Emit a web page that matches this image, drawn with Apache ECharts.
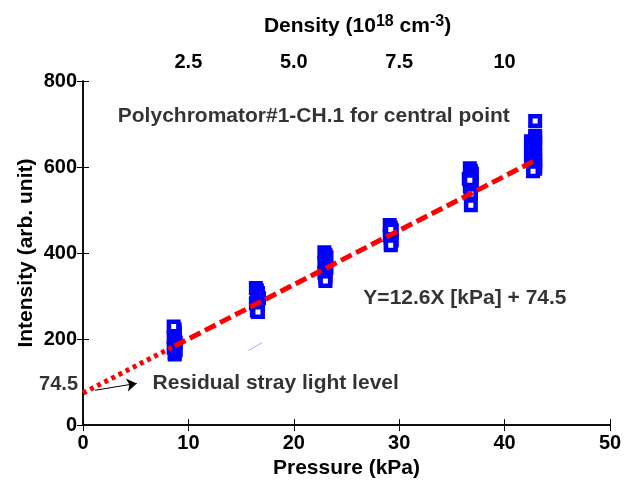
<!DOCTYPE html>
<html>
<head>
<meta charset="utf-8">
<script src="https://cdn.jsdelivr.net/npm/echarts@6/dist/echarts.min.js"></script>
<style>
  html, body { margin: 0; padding: 0; background: #fff; }
  #chart { width: 634px; height: 484px; }
</style>
</head>
<body>
<div id="chart"></div>
<script>
// pressure (kPa) of each measured shot, and its intensity
var pressure = [
  8.7, 8.7, 8.8, 8.6, 8.7, 8.8, 8.7, 8.6, 8.7, 8.7, 8.7, 8.6,
  16.4, 16.5, 16.6, 16.5, 16.7, 16.5, 16.4, 16.6, 16.5, 16.5, 16.6,
  22.9, 23.0, 23.1, 23.0, 22.9, 23.0, 23.1, 23.0, 22.9, 23.0, 23.0, 23.0,
  29.1, 29.2, 29.3, 29.2, 29.1, 29.2, 29.3, 29.2, 29.2, 29.2,
  36.7, 36.8, 36.9, 36.8, 36.6, 36.8, 36.9, 36.7, 36.8, 36.8, 36.8, 36.8, 36.7,
  42.9, 42.9, 42.5, 42.9, 42.5, 42.9, 42.5, 42.9, 42.5, 42.9, 42.9, 42.9, 42.9, 42.7, 42.9
];
var intensity = [
  164, 168, 174, 180, 186, 192, 198, 204, 210, 216, 222, 229,
  319, 313, 307, 301, 295, 289, 283, 277, 271, 266, 263,
  402, 396, 390, 384, 378, 372, 366, 360, 354, 348, 342, 335,
  465, 459, 453, 447, 441, 435, 429, 423, 418, 455,
  597, 591, 585, 579, 573, 567, 561, 555, 549, 543, 537, 511, 569,
  673, 667, 660, 654, 647, 641, 634, 628, 621, 615, 608, 602, 596, 590, 707
];

// linear fit Y = 12.6X + 74.5 : extrapolated part (dotted) and fitted part (dashed)
var fitDotX = [0, 8.7];
var fitDotY = [74.5, 184];
var fitDashX = [8.7, 42.8];
var fitDashY = [184, 614];

// small stray stroke seen near the 16.5 kPa group
var strayX = [15.7, 17.0];
var strayY = [173, 192];

// arrow pointing at the stray light level
var arrowX = [1.15, 5.1];
var arrowY = [81, 97];

// annotations
var noteText = ['Polychromator#1-CH.1 for central point', 'Y=12.6X [kPa] + 74.5', 'Residual stray light level'];
var noteX = [3.3, 26.6, 6.6];
var noteY = [717, 296, 97];

// axis ticks
var pressureTicks = [0, 10, 20, 30, 40, 50];
var intensityTicks = [0, 200, 400, 600, 800];
var densityTicks = [2.5, 5.0, 7.5, 10];
var densityLabels = ['2.5', '5.0', '7.5', '10'];

var FONT = '"Liberation Sans", Arial, sans-serif';
var lbl = { color: '#000', fontFamily: FONT, fontWeight: 'bold', fontSize: 20 };
var big = { color: '#000', fontFamily: FONT, fontWeight: 'bold', fontSize: 21 };
var tick = { show: true, inside: true, length: 6, lineStyle: { color: '#000', width: 1 } };

function pairs(xs, ys) {
  return xs.map(function (x, i) { return [x, ys[i]]; });
}

var chart = echarts.init(document.getElementById('chart'));

chart.setOption({
  animation: false,
  grid: { left: 83, right: 24, top: 81, bottom: 57 },
  xAxis: [
    {
      type: 'value',
      min: pressureTicks[0],
      max: pressureTicks[pressureTicks.length - 1],
      interval: 10,
      name: 'Pressure (kPa)',
      nameLocation: 'middle',
      nameGap: 32,
      nameTextStyle: big,
      axisLine: { show: true, onZero: false, lineStyle: { color: '#000', width: 1.5 } },
      axisTick: tick,
      axisLabel: Object.assign({ margin: 8 }, lbl),
      splitLine: { show: false }
    },
    {
      // density axis on top: density = pressure / 4
      type: 'value',
      position: 'top',
      min: 0,
      max: 12.5,
      interval: 2.5,
      name: '{t|Density (10}{s|18}{t| cm}{s|-3}{t|)}',
      nameLocation: 'middle',
      nameGap: 43,
      nameTextStyle: {
        padding: [0, 0, 0, 22],
        rich: {
          t: { color: '#000', fontFamily: FONT, fontWeight: 'bold', fontSize: 21, lineHeight: 24 },
          s: { color: '#000', fontFamily: FONT, fontWeight: 'bold', fontSize: 16, lineHeight: 24, verticalAlign: 'top', padding: [0, 0, 10, 0] }
        }
      },
      axisLine: { show: true, lineStyle: { color: '#000', width: 1.5 } },
      axisTick: tick,
      axisLabel: Object.assign({
        margin: 9,
        formatter: function (v) {
          var i = densityTicks.indexOf(v);
          return i < 0 ? '' : densityLabels[i];
        }
      }, lbl),
      splitLine: { show: false }
    }
  ],
  yAxis: [
    {
      type: 'value',
      min: intensityTicks[0],
      max: intensityTicks[intensityTicks.length - 1],
      interval: 200,
      name: 'Intensity (arb. unit)',
      nameLocation: 'middle',
      nameGap: 46,
      nameMoveOverlap: false,
      nameTextStyle: big,
      axisLine: { show: true, onZero: false, lineStyle: { color: '#000', width: 1.5 } },
      axisTick: tick,
      axisLabel: Object.assign({ margin: 6 }, lbl),
      splitLine: { show: false }
    },
    {
      type: 'value',
      position: 'right',
      min: intensityTicks[0],
      max: intensityTicks[intensityTicks.length - 1],
      interval: 200,
      axisLine: { show: true, lineStyle: { color: '#000', width: 1.5 } },
      axisTick: tick,
      axisLabel: { show: false },
      splitLine: { show: false }
    }
  ],
  series: [
    {
      name: 'stray',
      type: 'line',
      data: pairs(strayX, strayY),
      symbol: 'none',
      lineStyle: { color: '#a8a8ff', width: 1 },
      z: 1
    },
    {
      name: 'measured',
      type: 'scatter',
      data: pairs(pressure, intensity),
      symbol: 'rect',
      symbolSize: 9.5,
      itemStyle: { color: '#fff', borderColor: '#0000ff', borderWidth: 4.5, opacity: 1 },
      z: 2
    },
    {
      name: 'fit (extrapolated)',
      type: 'line',
      data: pairs(fitDotX, fitDotY),
      symbol: 'none',
      lineStyle: { color: '#ff0000', width: 5, type: [4, 4], cap: 'butt' },
      z: 3
    },
    {
      name: 'fit',
      type: 'line',
      data: pairs(fitDashX, fitDashY),
      symbol: 'none',
      lineStyle: { color: '#ff0000', width: 5, type: [12, 5], cap: 'butt' },
      z: 3
    },
    {
      name: 'arrow',
      type: 'lines',
      coordinateSystem: 'cartesian2d',
      data: [{ coords: pairs(arrowX, arrowY) }],
      symbol: ['none', 'arrow'],
      symbolSize: 10,
      lineStyle: { color: '#000', width: 1, opacity: 1 },
      z: 4
    },
    {
      name: 'stray level label',
      type: 'scatter',
      data: [[fitDotX[0], fitDotY[0]]],
      symbolSize: 0,
      label: Object.assign({ show: true, position: 'left', distance: 5, offset: [0, -9], formatter: '74.5' }, lbl),
      z: 5
    },
    {
      name: 'notes',
      type: 'scatter',
      data: noteText.map(function (t, i) { return { value: [noteX[i], noteY[i]], name: t }; }),
      symbolSize: 0,
      label: Object.assign({ show: true, position: 'right', distance: 0, formatter: '{b}' }, big),
      z: 5
    }
  ]
});
</script>
</body>
</html>
